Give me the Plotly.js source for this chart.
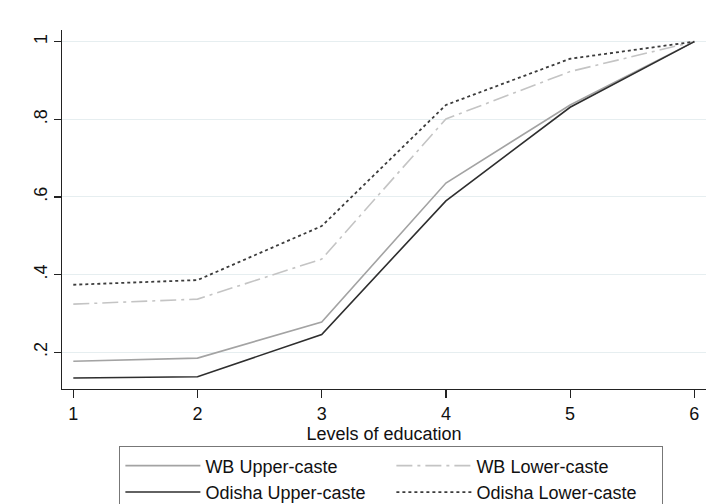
<!DOCTYPE html>
<html>
<head>
<meta charset="utf-8">
<script src="https://cdn.plot.ly/plotly-3.0.1.min.js"></script>
<style>html,body{margin:0;padding:0;background:#fff;}#chart{width:707px;height:504px;}</style>
</head>
<body>
<div id="chart"></div>
<script>
const levels = [1, 2, 3, 4, 5, 6];
const wbUpper = [0.177, 0.185, 0.278, 0.636, 0.837, 1.0];
const wbLower = [0.324, 0.337, 0.440, 0.801, 0.923, 1.0];
const odishaUpper = [0.134, 0.137, 0.246, 0.590, 0.831, 1.0];
const odishaLower = [0.374, 0.386, 0.525, 0.837, 0.956, 1.0];
const yTickVals = [0.2, 0.4, 0.6, 0.8, 1.0];
const yTickText = ['.2', '.4', '.6', '.8', '1'];
const xTickVals = [1, 2, 3, 4, 5, 6];

const traces = [
  {x: levels, y: wbUpper, name: 'WB Upper-caste', mode: 'lines',
   line: {color: '#a3a3a3', width: 1.6}},
  {x: levels, y: wbLower, name: 'WB Lower-caste', mode: 'lines',
   line: {color: '#c4c4c4', width: 1.6, dash: '16px,5px,3px,5px'}},
  {x: levels, y: odishaUpper, name: 'Odisha Upper-caste', mode: 'lines',
   line: {color: '#2e2e2e', width: 1.6}},
  {x: levels, y: odishaLower, name: 'Odisha Lower-caste', mode: 'lines',
   line: {color: '#3c3c3c', width: 1.8, dash: '3px,3px'}}
];

const font = {family: '"Liberation Sans", Arial, sans-serif', size: 18, color: '#111'};

const layout = {
  width: 707, height: 504,
  margin: {l: 62, r: 1, t: 30, b: 115, autoexpand: false},
  paper_bgcolor: '#fff', plot_bgcolor: '#fff',
  font: font,
  showlegend: true,
  xaxis: {
    range: [0.909, 6.094],
    tickvals: xTickVals,
    ticks: 'outside', ticklen: 8, tickcolor: '#222', tickwidth: 1.2,
    showline: true, linecolor: '#222', linewidth: 1.2,
    showgrid: false, zeroline: false,
    automargin: false,
    tickfont: font,
    title: {text: 'Levels of education', font: font, standoff: 0}
  },
  yaxis: {
    range: [0.1055, 1.030],
    tickvals: yTickVals, ticktext: yTickText,
    tickangle: -90,
    ticks: 'outside', ticklen: 7, tickcolor: '#222', tickwidth: 1.2,
    showline: true, linecolor: '#222', linewidth: 1.2,
    showgrid: true, gridcolor: '#e6eef0', gridwidth: 1,
    zeroline: false,
    automargin: false,
    tickfont: font
  },
  legend: {
    orientation: 'h',
    x: 0.0891, y: -0.160, xanchor: 'left', yanchor: 'top',
    bordercolor: '#777', borderwidth: 1,
    font: font,
    entrywidth: 181, entrywidthmode: 'pixels',
    itemwidth: 75,
    traceorder: 'normal'
  }
};

Plotly.newPlot('chart', traces, layout, {staticPlot: true, displayModeBar: false});
</script>
</body>
</html>
